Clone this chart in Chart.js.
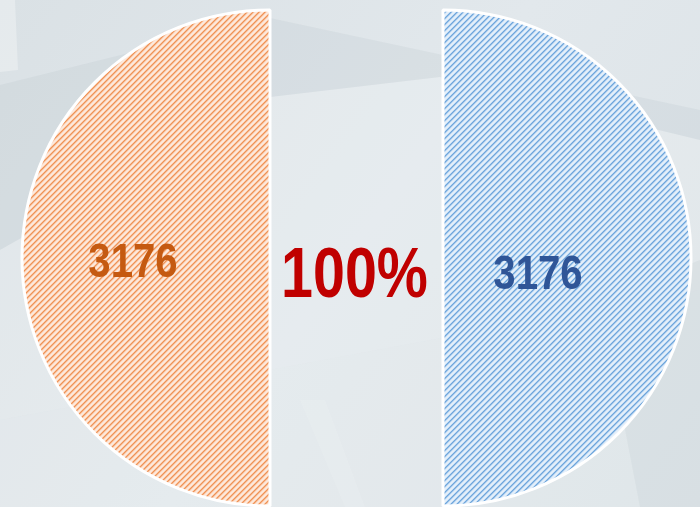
<!DOCTYPE html>
<html>
<head>
<meta charset="utf-8">
<script src="https://cdn.jsdelivr.net/npm/chart.js@4/dist/chart.umd.min.js"></script>
<style>
  html, body { margin: 0; padding: 0; background: #dee5e9; }
  #wrap { width: 700px; height: 507px; position: relative; }
</style>
</head>
<body>
<div id="wrap"><canvas id="c" width="700" height="507"></canvas></div>
<script>
// ---- data ----
const categories = ['系列A', '系列B'];
const values = [3176, 3176];           // right half (blue), left half (orange)
const centerLabel = '100%';

// ---- styles ----
function makePattern(cols) {
  const s = cols.length;
  const c = document.createElement('canvas');
  c.width = s; c.height = s;
  const g = c.getContext('2d');
  for (let x = 0; x < s; x++) {
    for (let y = 0; y < s; y++) {
      g.fillStyle = cols[(x + y) % s];
      g.fillRect(x, y, 1, 1);
    }
  }
  return g.createPattern(c, 'repeat');
}
const ctx0 = document.getElementById('c').getContext('2d');
const bluePat = makePattern(['#6fa6dc', '#98c0e8', '#d3e5f6', '#e4effa', '#e4effa', '#c2dbf2']);
const orangePat = makePattern(['#f09256', '#f5b68c', '#fcdcc7', '#fde9dc', '#fde9dc', '#f9cbab']);
const fills = [bluePat, orangePat];
const labelColors = ['#2f5597', '#c55a11'];
const labelNudge = [{dx: -29, dy: 17}, {dx: -13, dy: 5}];
const halfGap = 86.5;
const narrow = 0.82;

const bgPlugin = {
  id: 'bg',
  beforeDraw(chart) {
    const ctx = chart.ctx;
    ctx.save();
    const gr = ctx.createLinearGradient(0, 0, 700, 507);
    gr.addColorStop(0, '#dae1e5');
    gr.addColorStop(0.5, '#e2e8ec');
    gr.addColorStop(1, '#dbe2e6');
    ctx.fillStyle = gr;
    ctx.fillRect(0, 0, 700, 507);
    const poly = (pts, col) => {
      ctx.beginPath();
      ctx.moveTo(pts[0][0], pts[0][1]);
      for (let i = 1; i < pts.length; i++) ctx.lineTo(pts[i][0], pts[i][1]);
      ctx.closePath();
      ctx.fillStyle = col;
      ctx.fill();
    };
    poly([[0,0],[15,0],[18,70],[0,72]], 'rgba(255,255,255,0.3)');
    poly([[0,85],[270,18],[700,110],[700,140],[440,77],[270,97],[0,250]], 'rgba(160,175,185,0.14)');
    poly([[0,250],[270,97],[440,77],[700,140],[700,290],[0,420]], 'rgba(255,255,255,0.16)');
    poly([[0,420],[700,290],[700,507],[0,507]], 'rgba(240,246,248,0.22)');
    poly([[600,300],[700,260],[700,507],[640,507]], 'rgba(170,182,190,0.14)');
    poly([[300,400],[325,400],[365,507],[345,507]], 'rgba(255,255,255,0.1)');
    ctx.restore();
  }
};

// split the two halves apart horizontally
const splitPlugin = {
  id: 'split',
  afterDatasetsUpdate(chart) {
    const meta = chart.getDatasetMeta(0);
    meta.data.forEach(arc => {
      const half = (arc.startAngle + arc.endAngle) / 2;
      arc.x += Math.round(Math.cos(half) * 1000) / 1000 * halfGap;
    });
  }
};

function narrowText(ctx, text, x, y) {
  ctx.save();
  ctx.translate(x, y);
  ctx.scale(narrow, 1);
  ctx.fillText(text, 0, 0);
  ctx.restore();
}

const labelPlugin = {
  id: 'labels',
  afterDatasetsDraw(chart) {
    const ctx = chart.ctx;
    const meta = chart.getDatasetMeta(0);
    ctx.save();
    ctx.textAlign = 'center';
    ctx.textBaseline = 'middle';
    meta.data.forEach((arc, i) => {
      const p = arc.getCenterPoint();
      ctx.font = "bold 49px 'Liberation Sans', Arial, sans-serif";
      ctx.fillStyle = labelColors[i];
      narrowText(ctx, String(chart.data.datasets[0].data[i]), p.x + labelNudge[i].dx, p.y + labelNudge[i].dy);
    });
    const cx = (meta.data[0].x + meta.data[1].x) / 2;
    ctx.font = "bold 70px 'Liberation Sans', Arial, sans-serif";
    ctx.fillStyle = '#c00000';
    narrowText(ctx, centerLabel, cx - 2, meta.data[0].y + 20);
    ctx.restore();
  }
};

new Chart(ctx0, {
  type: 'pie',
  data: {
    labels: categories,
    datasets: [{
      data: values,
      backgroundColor: fills,
      borderColor: '#ffffff',
      borderWidth: 3,
      radius: 248,
      clip: false
    }]
  },
  options: {
    responsive: false,
    animation: false,
    layout: { padding: { left: 13, top: 9, right: 0, bottom: 0 } },
    plugins: { legend: { display: false }, tooltip: { enabled: false } },
    events: []
  },
  plugins: [bgPlugin, splitPlugin, labelPlugin]
});
</script>
</body>
</html>
